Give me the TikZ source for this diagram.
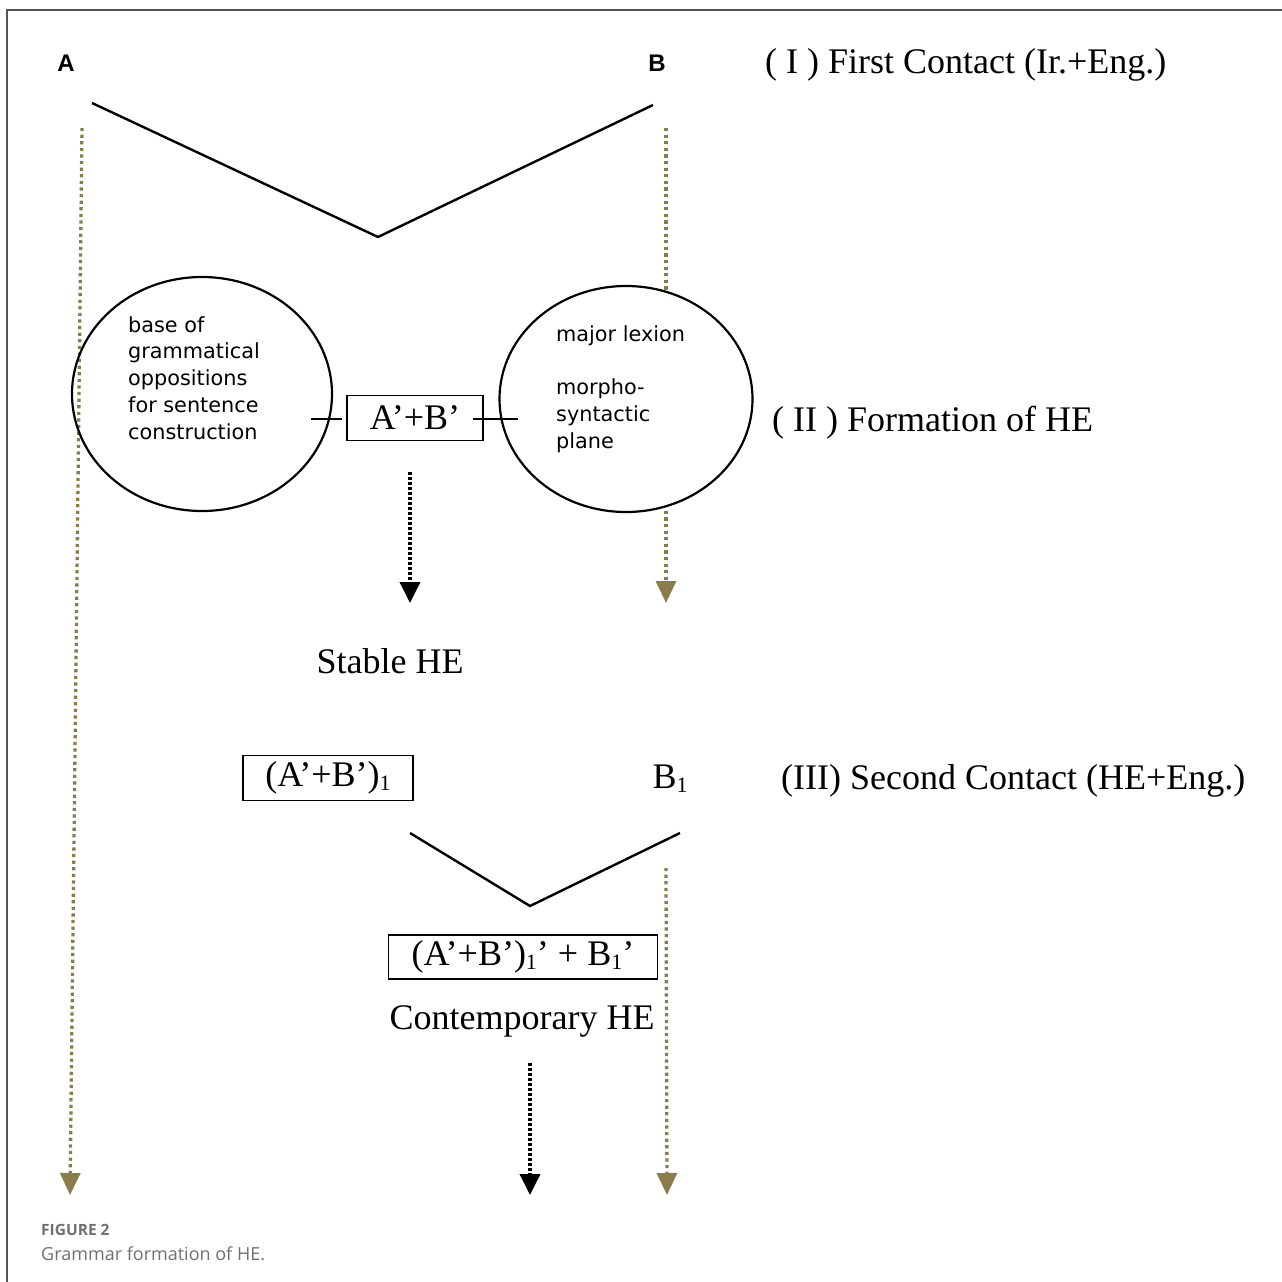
\documentclass[tikz,border=0pt]{standalone}
\usepackage{fontspec}
\setmainfont{Liberation Serif}
\newfontfamily\labelsans{Liberation Sans}
\newfontfamily\circlesans{DejaVu Sans}
\newfontfamily\capfont{Open Sans}
\usetikzlibrary{arrows.meta,shapes.geometric}
\definecolor{goldline}{HTML}{8B7D4B}
\definecolor{framegray}{HTML}{555555}
\definecolor{capgray}{HTML}{707070}
\newcommand{\subone}{\raisebox{-0.12em}{\fontsize{22}{22}\selectfont 1}}
\begin{document}
\begin{tikzpicture}[x=1pt,y=-1pt,
  serif/.style={font=\fontsize{36}{40}\selectfont, inner sep=0pt},
  corner/.style={font=\labelsans\bfseries\fontsize{24}{26}\selectfont, inner sep=0pt},
  stagebox/.style={draw, line width=1.3pt, minimum height=45pt, inner sep=0pt,
    font=\fontsize{36}{40}\selectfont},
  bubble/.style={ellipse, draw, line width=2.2pt, inner sep=0pt},
  bubbletext/.style={font=\circlesans\fontsize{20.8}{26.8}\selectfont, align=left,
    inner sep=0pt, anchor=north west},
  vline/.style={line width=2.4pt},
  tick/.style={line width=1.5pt},
  goldflow/.style={draw=goldline, line width=3.3pt, dash pattern=on 3.2pt off 3.4pt,
    -{Triangle[width=20pt,length=22pt,fill=goldline]}},
  blackflow/.style={draw=black, line width=3.6pt, dash pattern=on 3pt off 2pt,
    -{Triangle[width=20pt,length=21pt]}}
]
\useasboundingbox (0,0) rectangle (1282,1282);

% frame
\draw[framegray, line width=2pt] (1282,10) -- (7,10) -- (7,1282);

% corner labels and stage titles
\node[corner] (lblA) at (66,63) {A};
\node[corner] (lblB) at (657,63) {B};
\node[serif, anchor=west] (stage1) at (765,65) {( I ) First Contact (Ir.+Eng.)};
\node[serif, anchor=west] (stage2) at (772,423) {( II ) Formation of HE};
\node[serif, anchor=west] (stage3) at (781,781) {(III) Second Contact (HE+Eng.)};

% first contact
\coordinate (v1a) at (92,103);
\coordinate (v1b) at (378,237);
\coordinate (v1c) at (653,105);
\draw[vline] (v1a) -- (v1b) -- (v1c);

% long streams of A and B
\coordinate (srcA) at (82,128);
\coordinate (endA) at (70,1195);
\coordinate (srcB) at (666,128);
\coordinate (endB) at (666,603);
\draw[goldflow] (srcA) -- (endA);
\draw[goldflow] (srcB) -- (endB);

% formation of HE
\node[bubble, minimum width=260pt, minimum height=234pt] (grammar) at (202,394) {};
\node[bubble, fill=white, minimum width=253pt, minimum height=226pt] (lexicon) at (626,399) {};
\node[bubbletext] (grammartext) at (128,316) {base of\\grammatical\\oppositions\\for sentence\\construction};
\node[bubbletext] (lexicontext) at (556,325) {major lexion\\[26.8pt]morpho-\\syntactic\\plane};
\node[stagebox, minimum width=136pt] (mix) at (415,418) {A’+B’};
\draw[tick] ([xshift=-35pt,yshift=-1pt]mix.west) -- ([xshift=-4pt,yshift=-1pt]mix.west);
\draw[tick] ([xshift=-11pt,yshift=-1pt]mix.east) -- ([xshift=34pt,yshift=-1pt]mix.east);

\coordinate (mixdown) at (410,472);
\coordinate (stabletop) at (410,603);
\draw[blackflow] (mixdown) -- (stabletop);
\node[serif] (stable) at (390,661) {Stable HE};

% second contact
\node[stagebox, minimum width=170pt] (mix1) at (328,778) {(A’+B’)\subone};
\node[serif] (b1) at (670,779) {B\subone};
\coordinate (v2a) at (410,833);
\coordinate (v2b) at (530,906);
\coordinate (v2c) at (680,833);
\draw[vline] (v2a) -- (v2b) -- (v2c);

\coordinate (srcB1) at (666,868);
\coordinate (endB1) at (667,1195);
\draw[goldflow] (srcB1) -- (endB1);

\node[stagebox, minimum width=269pt, minimum height=44pt] (mix2) at (523,957) {(A’+B’)\subone’ + B\subone’};
\node[serif] (contemp) at (522,1021) {Contemporary HE};
\coordinate (contdown) at (530,1063);
\coordinate (contend) at (530,1195);
\draw[blackflow] (contdown) -- (contend);

% caption
\node[anchor=base west, inner sep=0pt, text=capgray, font=\capfont\bfseries\fontsize{15.5}{18}\selectfont] (capnum) at (41,1235) {FIGURE 2};
\node[anchor=base west, inner sep=0pt, text=capgray, font=\capfont\fontsize{18}{22}\selectfont] (captext) at (41,1260) {Grammar formation of HE.};
\end{tikzpicture}
\end{document}
